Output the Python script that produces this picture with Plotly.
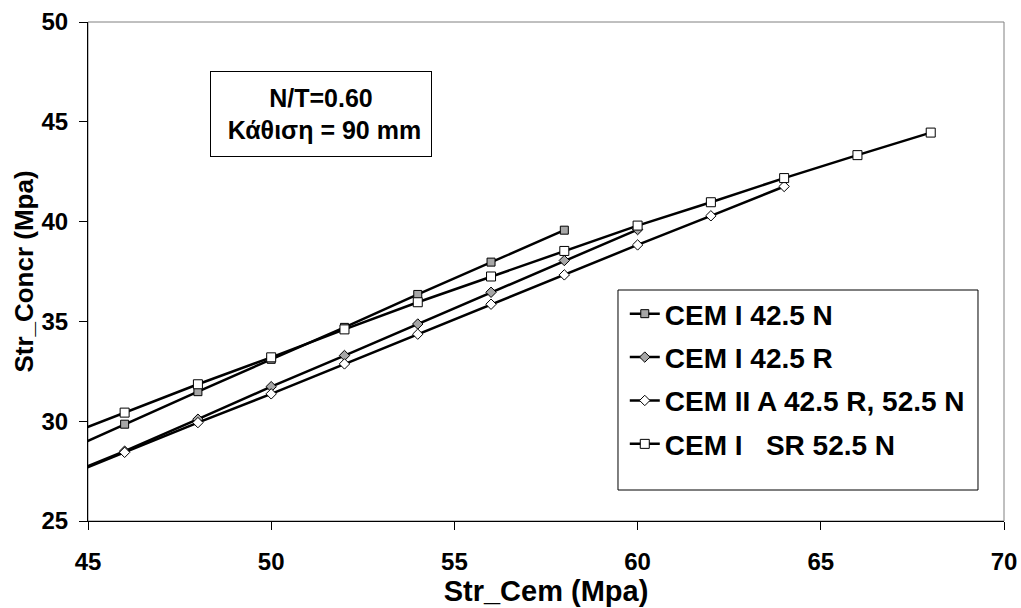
import plotly.graph_objects as go

# Data
x_n425 = [44, 46, 48, 50, 52, 54, 56, 58]
y_n425 = [28.2, 29.85, 31.48, 33.1, 34.7, 36.35, 37.97, 39.57]

x_r425 = [44, 46, 48, 50, 52, 54, 56, 58, 60]
y_r425 = [27.0, 28.5, 30.1, 31.73, 33.29, 34.87, 36.46, 38.05, 39.6]

x_ii = [44, 46, 48, 50, 52, 54, 56, 58, 60, 62, 64]
y_ii = [26.95, 28.44, 29.93, 31.37, 32.87, 34.36, 35.86, 37.33, 38.83, 40.29, 41.76]

x_sr = [44, 46, 48, 50, 52, 54, 56, 58, 60, 62, 64, 66, 68]
y_sr = [29.0, 30.43, 31.85, 33.2, 34.6, 35.96, 37.25, 38.53, 39.8, 40.97, 42.18, 43.33, 44.46]

names = ["CEM I 42.5 N", "CEM I 42.5 R", "CEM II A 42.5 R, 52.5 N", "CEM I&nbsp;&nbsp; SR 52.5 N"]

x_ticks = [45, 50, 55, 60, 65, 70]
y_ticks = [25, 30, 35, 40, 45, 50]

FONT = "Liberation Sans, Arial, sans-serif"
GRAY = "#a6a6a6"

series = [
    (x_n425, y_n425, names[0], "square", GRAY, 8),
    (x_r425, y_r425, names[1], "diamond", GRAY, 8),
    (x_ii, y_ii, names[2], "diamond", "white", 8),
    (x_sr, y_sr, names[3], "square", "white", 9),
]

fig = go.Figure()
for i, (xs, ys, nm, sym, fill, sz) in enumerate(series):
    fig.add_trace(go.Scatter(
        x=xs, y=ys, name=f"<b>{nm}</b>", mode="lines+markers",
        legendgroup=f"g{i}",
        line=dict(color="black", width=2.5),
        marker=dict(symbol=sym, size=sz, color=fill, line=dict(color="black", width=1)),
    ))

fig.update_layout(
    width=1021, height=608,
    margin=dict(l=88, r=17, t=22, b=87),
    paper_bgcolor="white", plot_bgcolor="white",
    font=dict(family=FONT, color="black"),
    showlegend=True,
    legend=dict(
        x=0.586, y=0.465, xanchor="left", yanchor="top",
        bgcolor="rgba(0,0,0,0)", borderwidth=0,
        font=dict(family=FONT, size=28, color="black"),
        traceorder="grouped", tracegroupgap=4,
        itemwidth=30,
    ),
    xaxis=dict(
        range=[45, 70], tickmode="array", tickvals=x_ticks,
        ticktext=[f"<b>{v}</b>" for v in x_ticks], automargin=False,
        showgrid=False, zeroline=False,
        showline=True, linecolor="black", linewidth=1,
        ticks="outside", ticklen=8, tickcolor="black",
        ticklabelstandoff=11,
        tickfont=dict(family=FONT, size=24, color="black", weight="bold"),
        title=dict(text="<b>Str_Cem (Mpa)</b>", font=dict(family=FONT, size=29, color="black"), standoff=6),
    ),
    yaxis=dict(
        range=[25, 50], tickmode="array", tickvals=y_ticks,
        ticktext=[f"<b>{v}</b>" for v in y_ticks], automargin=False,
        showgrid=False, zeroline=False,
        showline=True, linecolor="black", linewidth=1,
        ticks="outside", ticklen=8, tickcolor="black",
        ticklabelstandoff=6,
        tickfont=dict(family=FONT, size=24, color="black", weight="bold"),
        title=dict(text="<b>Str_Concr (Mpa)</b>", font=dict(family=FONT, size=26, color="black"), standoff=0),
    ),
)

# Plot-area border (grey top and right)
fig.add_shape(type="rect", xref="paper", yref="paper", x0=0, y0=0, x1=1, y1=1,
              line=dict(color="#808080", width=1), layer="below")

# Legend frame
fig.add_shape(type="rect", xref="paper", yref="paper",
              x0=0.5786, x1=0.9716, y0=0.0621, y1=0.4629,
              line=dict(color="black", width=1), fillcolor="white", layer="above")

fig.add_annotation(
    x=51.35, y=45.37, xref="x", yref="y",
    text="<b>N/T=0.60<br>&nbsp;Κάθιση = 90 mm</b>",
    showarrow=False, align="center",
    font=dict(family=FONT, size=25, color="black"),
    bordercolor="black", borderwidth=1, bgcolor="white",
    width=214, height=78, borderpad=3,
)

fig.write_html("out.html")
